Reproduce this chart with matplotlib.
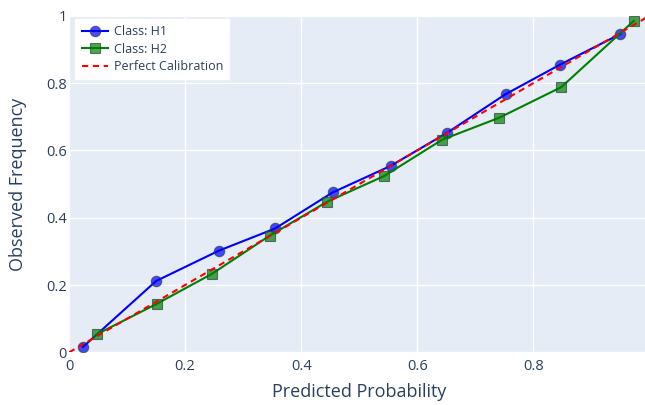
import matplotlib
matplotlib.use('Agg')
import matplotlib.pyplot as plt

plt.rcParams['font.family'] = ['Open Sans', 'DejaVu Sans']

# Calibration data
h1_pred = [0.024, 0.150, 0.258, 0.355, 0.454, 0.554, 0.651, 0.752, 0.846, 0.950]
h1_obs = [0.016, 0.212, 0.302, 0.368, 0.475, 0.554, 0.652, 0.767, 0.855, 0.946]
h2_pred = [0.048, 0.151, 0.246, 0.346, 0.444, 0.543, 0.643, 0.741, 0.848, 0.973]
h2_obs = [0.054, 0.144, 0.233, 0.347, 0.447, 0.524, 0.632, 0.697, 0.788, 0.985]
diag = [0, 1]
tick_vals = [0, 0.2, 0.4, 0.6, 0.8, 1]
tick_labels = ['0', '0.2', '0.4', '0.6', '0.8', '1']

text_col = '#2a3f5f'
edge = (0.18, 0.25, 0.25, 0.7)

fig = plt.figure(figsize=(6.45, 4.05), dpi=100)
ax = fig.add_axes([0.1070, 0.130, 0.9000, 0.831])
ax.set_facecolor('#E5ECF6')

ax.plot(h1_pred, h1_obs, color='blue', lw=1.5, marker='o', ms=7.5,
        mfc=(0, 0, 1, 0.7), mec=edge, mew=0.8, label='Class: H1', zorder=3)
ax.plot(h2_pred, h2_obs, color='green', lw=1.5, marker='s', ms=7,
        mfc=(0, 0.5, 0, 0.7), mec=edge, mew=0.8, label='Class: H2', zorder=3)
ax.plot(diag, diag, color='red', lw=1.5, dashes=(3, 2.2),
        label='Perfect Calibration', zorder=4)

ax.set_xlim(0, 1)
ax.set_ylim(0, 1)
ax.set_xticks(tick_vals)
ax.set_xticklabels(tick_labels)
ax.set_yticks(tick_vals)
ax.set_yticklabels(tick_labels)
ax.tick_params(length=0, labelsize=10.5, labelcolor=text_col)
ax.tick_params(axis='x', pad=5)
ax.tick_params(axis='y', pad=1.5)
ax.grid(color='white', lw=1)
ax.set_axisbelow(True)
for s in ax.spines.values():
    s.set_visible(False)

ax.set_xlabel('Predicted Probability', fontsize=13, color=text_col, va='center')
ax.xaxis.set_label_coords(0.5, -0.118)
ax.set_ylabel('Observed Frequency', fontsize=13, color=text_col, va='center')
ax.yaxis.set_label_coords(-0.088, 0.5)

leg = ax.legend(loc='upper left', bbox_to_anchor=(0.011, 0.99), borderaxespad=0,
                fontsize=9, frameon=True, fancybox=False, framealpha=1,
                edgecolor='white', facecolor='white', handlelength=2.1,
                handletextpad=0.45, labelspacing=0.35, borderpad=0.5)
for t in leg.get_texts():
    t.set_color(text_col)

fig.savefig('out.png', dpi=100)
